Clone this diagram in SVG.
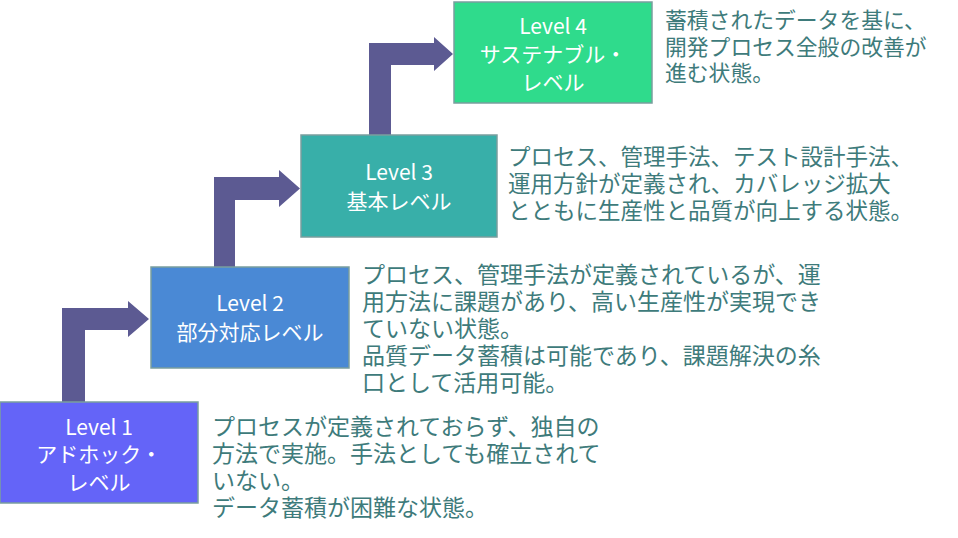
<svg xmlns="http://www.w3.org/2000/svg" width="958" height="538" viewBox="0 0 958 538">
<style>
.box{stroke:#7a9e9e;stroke-width:1.5}
.lbl{font-family:"Noto Sans CJK JP","Noto Sans",sans-serif;font-size:21px;fill:#ffffff;text-anchor:middle}
.desc{font-family:"Noto Sans CJK JP","Noto Sans",sans-serif;font-size:22px;fill:#3e7b7b}
.arr{fill:#5c5a92}
</style>
<rect width="958" height="538" fill="#ffffff"/>
<g id="connectors">
<polygon class="arr" points="62,403 62,308 128,308 128,301 149,319 128,337 128,330 85,330 85,403"/>
<polygon class="arr" points="214,268 214,177 279,177 279,170 300,188.5 279,207 279,200 235,200 235,268"/>
<polygon class="arr" points="369,136 369,43 434,43 434,37 453,54 434,71 434,65 391,65 391,136"/>
</g>
<g id="level1">
<rect class="box" x="0" y="402" width="198" height="101" fill="#6464f8"/>
<text class="lbl" x="99" y="435">Level 1<tspan x="99" dy="27">アドホック・</tspan><tspan x="99" dy="28">レベル</tspan></text>
</g>
<g id="level2">
<rect class="box" x="151" y="267" width="198" height="101" fill="#4a89d5"/>
<text class="lbl" x="250" y="311">Level 2<tspan x="250" dy="29">部分対応レベル</tspan></text>
</g>
<g id="level3">
<rect class="box" x="301" y="135" width="196" height="102" fill="#38afa9"/>
<text class="lbl" x="399" y="180">Level 3<tspan x="399" dy="29">基本レベル</tspan></text>
</g>
<g id="level4">
<rect class="box" x="454" y="2" width="198" height="101" fill="#2fdb8c"/>
<text class="lbl" x="553" y="34">Level 4<tspan x="553" dy="28">サステナブル・</tspan><tspan x="553" dy="28">レベル</tspan></text>
</g>
<g id="desc1">
<text class="desc" x="212" y="435" style="font-size:23px">プロセスが定義されておらず、独自の<tspan x="212" dy="27">方法で実施。手法としても確立されて</tspan><tspan x="212" dy="27">いない。</tspan><tspan x="212" dy="27">データ蓄積が困難な状態。</tspan></text>
</g>
<g id="desc2">
<text class="desc" x="362" y="283" style="font-size:23px">プロセス、管理手法が定義されているが、運<tspan x="362" dy="27">用方法に課題があり、高い生産性が実現でき</tspan><tspan x="362" dy="27">ていない状態。</tspan><tspan x="362" dy="27">品質データ蓄積は可能であり、課題解決の糸</tspan><tspan x="362" dy="27">口として活用可能。</tspan></text>
</g>
<g id="desc3">
<text class="desc" x="508" y="165" style="font-size:22.5px">プロセス、管理手法、テスト設計手法、<tspan x="508" dy="27">運用方針が定義され、カバレッジ拡大</tspan><tspan x="508" dy="27">とともに生産性と品質が向上する状態。</tspan></text>
</g>
<g id="desc4">
<text class="desc" x="665" y="28" style="font-size:21.8px">蓄積されたデータを基に、<tspan x="665" dy="26.5">開発プロセス全般の改善が</tspan><tspan x="665" dy="26.5">進む状態。</tspan></text>
</g>
</svg>
